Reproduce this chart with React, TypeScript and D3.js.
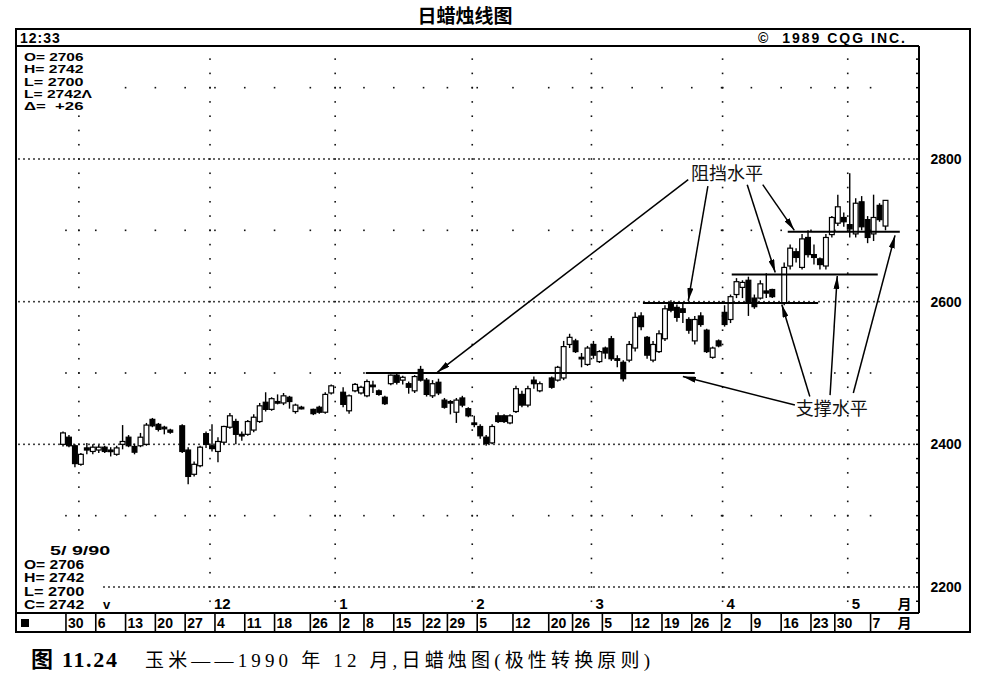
import React, { useEffect, useRef } from 'react';
import * as d3 from 'd3';

// daily corn futures, one slot per session; null = holiday slot left blank
const opens = [
  2400, 2410, 2398, 2372, 2395, 2390, 2392, 2396, 2392, 2386, 2400, 2410, 2397, 2398, 2400, 2435, 2428, 2424, 2420,
  null,
  2426, 2392, 2358, 2370, 2415, 2398, 2390, 2403, 2424, 2432, 2414, 2414, 2420, 2432, 2459, 2449, 2460, 2458, 2466, 2446, 2452,
  null,
  2449, 2452, 2445, 2472,
  null,
  2473, 2447, 2475, 2472, 2468, 2483, 2475, 2466,
  2485, 2497, 2490, 2485, 2475, 2505, 2490, 2468, 2487, 2462, 2460, 2445, 2465, 2450, 2430, 2425, 2410, 2402, 2440, 2440, 2430, 2446, 2470, 2455, 2490, 2475,
  null,
  2493, 2490, 2493, 2540, 2545, 2522, 2512, 2540, 2516, 2535, 2548, 2520, 2515, 2518, 2535, 2580, 2550, 2518, 2530, 2548, 2598, 2592, 2590, 2575, 2545, 2580, 2560, 2522, 2545, 2585, 2575, 2610, 2620, 2630, 2605, 2605, 2615, 2617,
  null,
  2598, 2650, 2670, 2648, 2690, 2666, 2660, 2650, 2694, 2710, 2718, 2708, 2695, 2740, 2715, 2695, 2735, 2706,
];
const highs = [
  2418, 2413, 2400, 2388, 2402, 2400, 2399, 2398, 2396, 2398, 2427, 2413, 2401, 2416, 2430, 2437, 2430, 2426, 2422,
  null,
  2428, 2396, 2376, 2398, 2418, 2428, 2410, 2426, 2444, 2436, 2418, 2434, 2442, 2458, 2473, 2466, 2470, 2472, 2468, 2457, 2454,
  null,
  2450, 2454, 2473, 2484,
  null,
  2480, 2470, 2486, 2482, 2491, 2489, 2477, 2468,
  2498, 2499, 2496, 2488, 2497, 2510, 2493, 2490, 2492, 2465, 2462, 2465, 2468, 2452, 2440, 2428, 2413, 2428, 2445, 2442, 2442, 2482, 2475, 2482, 2495, 2488,
  null,
  2495, 2510, 2545, 2555, 2548, 2528, 2538, 2545, 2532, 2537, 2552, 2525, 2518, 2545, 2585, 2585, 2552, 2545, 2560, 2595, 2602, 2596, 2598, 2578, 2580, 2585, 2562, 2537, 2547, 2595, 2610, 2633, 2630, 2635, 2610, 2630, 2640, 2618,
  null,
  2655, 2680, 2675, 2695, 2700, 2680, 2662, 2695, 2720, 2750, 2725, 2780, 2745, 2748, 2720, 2750, 2738, 2742,
];
const lows = [
  2397, 2396, 2368, 2370, 2386, 2386, 2388, 2388, 2383, 2384, 2393, 2396, 2386, 2396, 2398, 2424, 2418, 2414, 2415,
  null,
  2388, 2344, 2355, 2368, 2395, 2390, 2375, 2400, 2422, 2400, 2405, 2412, 2417, 2430, 2446, 2447, 2456, 2455, 2450, 2443, 2449,
  null,
  2441, 2443, 2443, 2470,
  null,
  2452, 2443, 2473, 2470, 2466, 2472, 2468, 2455,
  2483, 2484, 2484, 2471, 2472, 2488, 2467, 2465, 2469, 2450, 2442, 2430, 2452, 2438, 2424, 2408, 2398, 2400, 2430, 2430, 2428, 2444, 2452, 2452, 2478, 2473,
  null,
  2478, 2488, 2490, 2535, 2528, 2508, 2510, 2520, 2514, 2520, 2517, 2508, 2488, 2515, 2530, 2560, 2520, 2515, 2528, 2545, 2585, 2572, 2570, 2555, 2540, 2565, 2528, 2520, 2536, 2565, 2570, 2605, 2605, 2580, 2590, 2603, 2605, 2605,
  null,
  2595, 2645, 2655, 2645, 2662, 2652, 2645, 2645, 2690, 2706, 2705, 2690, 2690, 2700, 2682, 2685, 2712, 2700,
];
const closes = [
  2416, 2398, 2373, 2386, 2392, 2396, 2396, 2390, 2391, 2395, 2404, 2398, 2389, 2410, 2427, 2426, 2421, 2422, 2417,
  null,
  2390, 2355, 2372, 2396, 2400, 2394, 2404, 2425, 2440, 2414, 2412, 2432, 2438, 2454, 2449, 2464, 2458, 2468, 2460, 2455, 2451,
  null,
  2443, 2445, 2470, 2482,
  null,
  2456, 2468, 2484, 2480, 2488, 2481, 2470, 2457,
  2497, 2487, 2494, 2480, 2495, 2490, 2470, 2485, 2472, 2452, 2458, 2462, 2455, 2440, 2428, 2412, 2401, 2425, 2432, 2432, 2440, 2478, 2455, 2478, 2485, 2485,
  null,
  2480, 2508, 2537, 2550, 2530, 2520, 2535, 2525, 2530, 2528, 2520, 2518, 2492, 2540, 2578, 2565, 2525, 2540, 2555, 2590, 2588, 2578, 2585, 2560, 2575, 2568, 2530, 2535, 2538, 2568, 2607, 2628, 2627, 2600, 2593, 2625, 2612, 2607,
  null,
  2648, 2675, 2662, 2688, 2666, 2662, 2652, 2690, 2718, 2733, 2712, 2702, 2738, 2705, 2690, 2718, 2715, 2742,
];

const weekLabels = ['30', '6', '13', '20', '27', '4', '11', '18', '26', '2', '8', '15', '22', '29', '5', '12', '20', '26', '5', '12', '19', '26', '2', '9', '16', '23', '30', '7'];
const weekSlots = [1, 6, 11, 16, 21, 26, 31, 36, 42, 47, 51, 56, 61, 65, 70, 76, 82, 86, 91, 96, 101, 106, 111, 116, 121, 126, 130, 136];
const monthSlots = [3, 25, 46, 69, 89, 111, 132];
const monthLabels = ['', '12', '1', '2', '3', '4', '5'];
const priceTicks = [2200, 2400, 2600, 2800];
const halfTicks = [2300, 2500, 2700, 2900];
const topInfo = ['O= 2706', 'H= 2742', 'L= 2700', 'L= 2742Λ', 'Δ=  +26'];
const bottomInfo = ['5/ 9/90', 'O= 2706', 'H= 2742', 'L= 2700', 'C= 2742'];

// polarity levels: price, first slot, last slot
const levelPrices = [2500, 2598, 2638, 2698];
const levelFrom = [50.8, 97.3, 112.2, 121.6];
const levelTo = [106, 126.7, 136.7, 140.4];

// arrows as [slot, price] pairs
const resistFrom = [[104.9, 2771], [108.2, 2762], [114.8, 2764], [117.4, 2764]];
const resistTo = [[62.8, 2501], [104.9, 2601], [119.5, 2641], [122.7, 2700]];
const supportFrom = [[122.8, 2455], [125.3, 2467], [128.7, 2469], [132.6, 2472]];
const supportTo = [[104, 2495], [120.6, 2596], [129.9, 2636], [139.6, 2693]];

const FONT = 'Liberation Sans, Arial, sans-serif';
const CJK = '"Noto Sans CJK SC", sans-serif';

function CandleChart() {
  const ref = useRef<SVGSVGElement>(null);

  useEffect(() => {
    const svg = d3.select(ref.current);
    svg.selectAll('*').remove();

    const left = 16, right = 919, frameRight = 970;
    const top = 29, headerBottom = 46, plotBottom = 613, rowBottom = 632;

    const x = d3.scaleLinear().domain([0, 138]).range([63, 885.5]);
    const y = d3.scaleLinear().domain([2200, 2800]).range([587, 159]);

    svg.append('rect').attr('width', 1007).attr('height', 682).attr('fill', '#fff');

    const marker = svg.append('defs').append('marker')
      .attr('id', 'arr').attr('viewBox', '0 0 13 6').attr('refX', 13).attr('refY', 3)
      .attr('markerWidth', 13).attr('markerHeight', 6)
      .attr('markerUnits', 'userSpaceOnUse').attr('orient', 'auto');
    marker.append('path').attr('d', 'M0,0L13,3L0,6Z').attr('fill', '#000');

    // grid dots
    const grid = svg.append('g').attr('fill', '#111');
    const dots: [number, number][] = [];
    priceTicks.forEach(p => d3.range(left + 3, right - 2, 5).forEach(xx => dots.push([xx, y(p)])));
    const sparseX = weekSlots.map(s => x(s) - 3).concat(monthSlots.map(s => x(s) - 2));
    halfTicks.forEach(p => sparseX.forEach(xx => dots.push([xx, y(p)])));
    const vertP = d3.range(2180, 2960, 20);
    monthSlots.forEach(s => vertP.forEach(p => dots.push([x(s) - 2, y(p)])));
    grid.selectAll('rect').data(dots).join('rect')
      .attr('x', d => d[0] - 0.8).attr('y', d => d[1] - 0.8)
      .attr('width', 1.6).attr('height', 1.6);

    // right border ticks
    svg.append('g').selectAll('line').data(vertP.filter(p => y(p) > headerBottom + 3)).join('line')
      .attr('x1', right - 3).attr('x2', right).attr('y1', d => y(d)).attr('y2', d => y(d))
      .attr('stroke', '#000').attr('stroke-width', 1.5);

    // text boxes over grid
    svg.append('rect').attr('x', left + 1).attr('y', headerBottom + 2).attr('width', 80).attr('height', 66).attr('fill', '#fff');
    svg.append('rect').attr('x', left + 1).attr('y', 538).attr('width', 84).attr('height', 74).attr('fill', '#fff');

    const info = svg.append('g').attr('font-family', FONT).attr('font-weight', 'bold').attr('fill', '#000');
    info.append('text').attr('x', 20).attr('y', 43).attr('font-size', 14).attr('letter-spacing', 1).text('12:33');
    info.append('text').attr('x', 907).attr('y', 43).attr('text-anchor', 'end').attr('font-size', 14)
      .attr('letter-spacing', 2).attr('xml:space', 'preserve').text('©  1989 CQG INC.');
    topInfo.forEach((t, i) => info.append('text').attr('x', 24).attr('y', 61 + i * 12.3)
      .attr('font-size', 11).attr('textLength', t.length * 8.5).attr('lengthAdjust', 'spacingAndGlyphs')
      .attr('xml:space', 'preserve').text(t));
    bottomInfo.forEach((t, i) => info.append('text').attr('x', i === 0 ? 50 : 24).attr('y', 555 + i * 13.6)
      .attr('font-size', 12).attr('textLength', t.length * 8.6).attr('lengthAdjust', 'spacingAndGlyphs')
      .attr('xml:space', 'preserve').text(t));
    info.append('text').attr('x', 103).attr('y', 609).attr('font-size', 13).text('v');

    // frames
    const frame = svg.append('g').attr('stroke', '#000').attr('stroke-width', 2).attr('fill', 'none');
    frame.append('rect').attr('x', left).attr('y', top).attr('width', frameRight - left).attr('height', rowBottom - top);
    frame.append('line').attr('x1', left).attr('x2', right).attr('y1', headerBottom).attr('y2', headerBottom);
    frame.append('line').attr('x1', right).attr('x2', right).attr('y1', headerBottom).attr('y2', plotBottom);
    frame.append('line').attr('x1', left).attr('x2', right).attr('y1', plotBottom).attr('y2', plotBottom);

    // date row
    const row = svg.append('g');
    row.append('rect').attr('x', 21).attr('y', 619).attr('width', 8).attr('height', 8).attr('fill', '#000');
    row.selectAll('line').data(weekSlots).join('line')
      .attr('x1', d => x(d) - 3).attr('x2', d => x(d) - 3).attr('y1', plotBottom).attr('y2', rowBottom)
      .attr('stroke', '#000').attr('stroke-width', 1.6);
    row.selectAll('text.wk').data(weekLabels).join('text').attr('class', 'wk')
      .attr('x', (d, i) => x(weekSlots[i]) - 1).attr('y', 628)
      .attr('font-family', FONT).attr('font-weight', 'bold').attr('font-size', 14).text(d => d);
    row.append('text').attr('x', x(139) + 6).attr('y', 628).attr('font-family', CJK).attr('font-weight', 'bold').attr('font-size', 14).text('月');

    // month labels
    const months = svg.append('g').attr('font-family', FONT).attr('font-weight', 'bold').attr('font-size', 15);
    monthLabels.forEach((m, i) => {
      if (m) months.append('text').attr('x', x(monthSlots[i]) + 2).attr('y', 609).text(m);
    });
    months.append('text').attr('x', x(139) + 6).attr('y', 609).attr('font-family', CJK).attr('font-size', 14).text('月');

    // price labels
    svg.append('g').selectAll('text').data(priceTicks).join('text')
      .attr('x', 946).attr('y', d => y(d) + 5).attr('text-anchor', 'middle')
      .attr('font-family', FONT).attr('font-weight', 'bold').attr('font-size', 14).text(d => d);

    // candles
    const idx = d3.range(opens.length).filter(i => opens[i] != null);
    const cg = svg.append('g');
    cg.selectAll('line').data(idx).join('line')
      .attr('x1', i => x(i)).attr('x2', i => x(i))
      .attr('y1', i => y(highs[i] as number)).attr('y2', i => y(lows[i] as number))
      .attr('stroke', '#000').attr('stroke-width', 1.4);
    cg.selectAll('rect').data(idx).join('rect')
      .attr('x', i => x(i) - 2.4).attr('width', 4.8)
      .attr('y', i => y(Math.max(opens[i] as number, closes[i] as number)))
      .attr('height', i => Math.max(1.6, Math.abs(y(opens[i] as number) - y(closes[i] as number))))
      .attr('fill', i => ((closes[i] as number) >= (opens[i] as number) ? '#fff' : '#000'))
      .attr('stroke', '#000').attr('stroke-width', 1.2);

    // support / resistance levels
    svg.append('g').selectAll('line').data(levelPrices).join('line')
      .attr('x1', (d, i) => x(levelFrom[i])).attr('x2', (d, i) => x(levelTo[i]))
      .attr('y1', d => y(d)).attr('y2', d => y(d))
      .attr('stroke', '#000').attr('stroke-width', 2);

    // arrows
    const arrows = resistFrom.map((f, i) => [f, resistTo[i]]).concat(supportFrom.map((f, i) => [f, supportTo[i]]));
    svg.append('g').selectAll('line').data(arrows).join('line')
      .attr('x1', d => x(d[0][0])).attr('y1', d => y(d[0][1]))
      .attr('x2', d => x(d[1][0])).attr('y2', d => y(d[1][1]))
      .attr('stroke', '#000').attr('stroke-width', 1.5).attr('marker-end', 'url(#arr)');

    const notes = svg.append('g').attr('font-family', CJK).attr('font-size', 18).attr('fill', '#111').attr('text-anchor', 'middle');
    notes.append('text').attr('x', x(111.4)).attr('y', y(2781) + 7).text('阻挡水平');
    notes.append('text').attr('x', x(129)).attr('y', y(2451) + 7).text('支撑水平');

    // title and caption
    svg.append('text').attr('x', 465).attr('y', 23).attr('text-anchor', 'middle')
      .attr('font-family', CJK).attr('font-weight', 'bold').attr('font-size', 19).text('日蜡烛线图');
    svg.append('text').attr('x', 31).attr('y', 667)
      .attr('font-family', 'Liberation Serif, "Noto Sans CJK SC", serif').attr('font-weight', 'bold').attr('font-size', 22)
      .attr('textLength', 86).attr('lengthAdjust', 'spacing')
      .text('图 11.24');
    svg.append('text').attr('x', 145).attr('y', 667)
      .attr('font-family', 'Liberation Serif, "Noto Sans CJK SC", serif').attr('font-size', 19)
      .attr('textLength', 505).attr('lengthAdjust', 'spacing')
      .text('玉米——1990 年 12 月,日蜡烛图(极性转换原则)');
  }, []);

  return <svg ref={ref} width={1007} height={682} style={{ position: 'absolute', left: 0, top: 0 }} />;
}

export default function App() {
  return <CandleChart />;
}
